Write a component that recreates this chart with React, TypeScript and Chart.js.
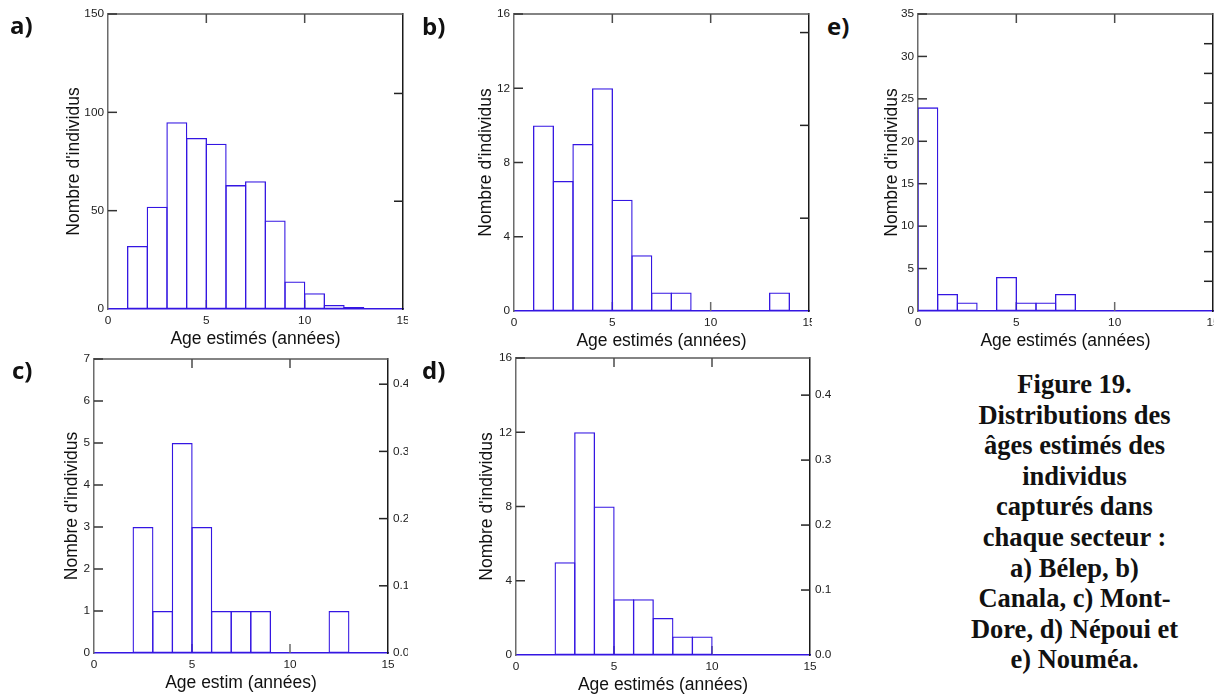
import React, { useEffect, useRef } from 'react';
import { Chart, registerables } from 'chart.js';

Chart.register(...registerables);

// ---- DATA ----
const ageBinCenters = [0.5, 1.5, 2.5, 3.5, 4.5, 5.5, 6.5, 7.5, 8.5, 9.5, 10.5, 11.5, 12.5, 13.5, 14.5];
const xTickValues = [0, 5, 10, 15];

const countsBelep = [0, 32, 52, 95, 87, 84, 63, 65, 45, 14, 8, 2, 1, 0, 0];
const countsCanala = [0, 10, 7, 9, 12, 6, 3, 1, 1, 0, 0, 0, 0, 1, 0];
const countsMontDore = [0, 0, 3, 1, 5, 3, 1, 1, 1, 0, 0, 0, 1, 0, 0];
const countsNepoui = [0, 0, 5, 12, 8, 3, 3, 2, 1, 1, 0, 0, 0, 0, 0];
const countsNoumea = [24, 2, 1, 0, 4, 1, 1, 2, 0, 0, 0, 0, 0, 0, 0];

const yTitle = "Nombre d'individus";
const xTitleMain = 'Age estimés (années)';
const xTitleC = 'Age estim (années)';

const captionLines = [
  'Figure 19.',
  'Distributions des',
  'âges estimés des',
  'individus',
  'capturés dans',
  'chaque secteur :',
  'a) Bélep, b)',
  'Canala, c) Mont-',
  'Dore, d) Népoui et',
  'e) Nouméa.',
];

// ---- STYLE / LAYOUT ----
const BAR_COLOR = '#3416e2';
const BAR_BW = 1.3;
const FONT = "'Liberation Sans', Arial, sans-serif";
const TICK_SIZE = 11.8;
const TITLE_SIZE = 17.5;
const TITLE_LH = TITLE_SIZE * 1.2;

type PanelCfg = {
  label: string;
  counts: number[];
  yMax: number;
  yStep: number;
  showRight: boolean;
  xTitle: string;
  canvas: { left: number; top: number; w: number; h: number };
  area: { l: number; r: number; t: number; b: number };
  yTitleX: number;
  xTitleY: number;
  labelPos: { left: number; top: number };
};

const panels: PanelCfg[] = [
  {
    label: 'a)', counts: countsBelep, yMax: 150, yStep: 50, showRight: false, xTitle: xTitleMain,
    canvas: { left: 0, top: 0, w: 408, h: 350 }, area: { l: 108, r: 403, t: 14, b: 309 },
    yTitleX: 74, xTitleY: 339.5, labelPos: { left: 10, top: 12.5 },
  },
  {
    label: 'b)', counts: countsCanala, yMax: 16, yStep: 4, showRight: false, xTitle: xTitleMain,
    canvas: { left: 420, top: 0, w: 392, h: 352 }, area: { l: 514, r: 809, t: 14, b: 311 },
    yTitleX: 486.5, xTitleY: 341, labelPos: { left: 422, top: 13.5 },
  },
  {
    label: 'e)', counts: countsNoumea, yMax: 35, yStep: 5, showRight: false, xTitle: xTitleMain,
    canvas: { left: 850, top: 0, w: 364, h: 352 }, area: { l: 918, r: 1213, t: 14, b: 311 },
    yTitleX: 892, xTitleY: 341, labelPos: { left: 827, top: 13.5 },
  },
  {
    label: 'c)', counts: countsMontDore, yMax: 7, yStep: 1, showRight: true, xTitle: xTitleC,
    canvas: { left: 0, top: 345, w: 408, h: 349 }, area: { l: 94, r: 388, t: 359, b: 653 },
    yTitleX: 72.5, xTitleY: 683, labelPos: { left: 12, top: 358 },
  },
  {
    label: 'd)', counts: countsNepoui, yMax: 16, yStep: 4, showRight: true, xTitle: xTitleMain,
    canvas: { left: 420, top: 345, w: 430, h: 351 }, area: { l: 516, r: 810, t: 358, b: 655 },
    yTitleX: 487.5, xTitleY: 685, labelPos: { left: 422, top: 358 },
  },
];

const framePlugin = {
  id: 'frame',
  beforeDatasetsDraw(chart: any) {
    const { ctx, chartArea: a, scales } = chart;
    const seg = (x1: number, y1: number, x2: number, y2: number, color: string) => {
      ctx.beginPath();
      ctx.strokeStyle = color;
      ctx.moveTo(x1, y1);
      ctx.lineTo(x2, y2);
      ctx.stroke();
    };
    const TL = 9;
    ctx.save();
    ctx.lineWidth = 1.5;
    seg(a.left, a.top, a.right, a.top, '#5a5a5a');
    const x = scales.x;
    x.ticks.forEach((t: any) => {
      if (t.value <= x.min || t.value >= x.max) return;
      const px = x.getPixelForValue(t.value);
      seg(px, a.top, px, a.top + TL, '#4a4a4a');
      seg(px, a.bottom, px, a.bottom - TL, '#6a6a6a');
    });
    const y = scales.y;
    y.ticks.forEach((t: any) => {
      if (t.value <= y.min) return;
      const py = y.getPixelForValue(t.value);
      seg(a.left, py, a.left + TL, py, '#333333');
    });
    const y2 = scales.y2;
    y2.ticks.forEach((t: any) => {
      if (t.value <= y2.min + 1e-9 || t.value >= y2.max - 1e-9) return;
      const py = y2.getPixelForValue(t.value);
      seg(a.right - TL, py, a.right, py, '#222222');
    });
    ctx.restore();
  },
};

function Panel({ cfg }: { cfg: PanelCfg }) {
  const ref = useRef<HTMLCanvasElement | null>(null);
  useEffect(() => {
    if (!ref.current) return;
    const { canvas, area } = cfg;
    const padLeft = cfg.yTitleX - canvas.left - TITLE_LH / 2;
    const yW = area.l - canvas.left - padLeft;
    const y2W = canvas.left + canvas.w - area.r;
    const padTop = area.t - canvas.top;
    const axisH = cfg.xTitleY - area.b + TITLE_LH / 2;
    const padBottom = Math.max(0, canvas.top + canvas.h - area.b - axisH);
    const total = cfg.counts.reduce((s, v) => s + v, 0);
    const binPx = (area.r - area.l) / 15;
    // widen each bar by one stroke width so that neighbouring edges share a single line
    const barPct = 1 + BAR_BW / binPx;

    const chart = new Chart(ref.current, {
      type: 'bar',
      data: {
        datasets: [
          {
            data: ageBinCenters.map((xv, i) => ({ x: xv, y: cfg.counts[i] })),
            backgroundColor: 'rgba(255,255,255,0)',
            borderColor: BAR_COLOR,
            borderWidth: BAR_BW,
            borderSkipped: false,
            barPercentage: barPct,
            categoryPercentage: 1,
          } as any,
        ],
      },
      options: {
        responsive: false,
        animation: false,
        events: [],
        layout: { padding: { left: padLeft, top: padTop, right: 0, bottom: padBottom } },
        plugins: { legend: { display: false }, tooltip: { enabled: false } },
        scales: {
          x: {
            type: 'linear',
            min: 0,
            max: 15,
            offset: false,
            grid: { display: false, drawTicks: false, offset: false },
            border: { display: true, color: BAR_COLOR, width: 1.5 },
            afterBuildTicks: (s: any) => {
              s.ticks = xTickValues.map((v) => ({ value: v }));
            },
            ticks: {
              autoSkip: false,
              maxRotation: 0,
              padding: 5,
              color: '#222',
              font: { family: FONT, size: TICK_SIZE },
            },
            title: {
              display: true,
              text: cfg.xTitle,
              color: '#111',
              padding: 0,
              font: { family: FONT, size: TITLE_SIZE, lineHeight: 1.2 },
            },
            afterFit: (s: any) => {
              s.height = axisH;
              s.paddingLeft = 0;
              s.paddingRight = 0;
            },
          },
          y: {
            type: 'linear',
            position: 'left',
            min: 0,
            max: cfg.yMax,
            grid: { display: false, drawTicks: false },
            border: { display: true, color: '#6b6b6b', width: 1.5 },
            ticks: {
              stepSize: cfg.yStep,
              padding: 4,
              color: '#222',
              font: { family: FONT, size: TICK_SIZE },
            },
            title: {
              display: true,
              text: yTitle,
              color: '#111',
              padding: 0,
              font: { family: FONT, size: TITLE_SIZE, lineHeight: 1.2 },
            },
            afterFit: (s: any) => {
              s.width = yW;
              s.paddingTop = 0;
              s.paddingBottom = 0;
            },
          },
          y2: {
            type: 'linear',
            position: 'right',
            min: 0,
            max: cfg.yMax / total,
            grid: { display: false, drawTicks: false },
            border: { display: true, color: '#1a1a1a', width: 1.5 },
            ticks: {
              display: cfg.showRight,
              stepSize: 0.1,
              includeBounds: false,
              padding: 5,
              color: '#222',
              font: { family: FONT, size: TICK_SIZE },
              callback: (v: any) => Number(v).toFixed(1),
            },
            afterFit: (s: any) => {
              s.width = y2W;
              s.paddingTop = 0;
              s.paddingBottom = 0;
            },
          },
        },
      } as any,
      plugins: [framePlugin],
    });
    return () => chart.destroy();
  }, [cfg]);

  return (
    <>
      <canvas
        ref={ref}
        width={cfg.canvas.w}
        height={cfg.canvas.h}
        style={{
          position: 'absolute',
          left: cfg.canvas.left,
          top: cfg.canvas.top,
          width: cfg.canvas.w,
          height: cfg.canvas.h,
        }}
      />
      <div
        style={{
          position: 'absolute',
          left: cfg.labelPos.left,
          top: cfg.labelPos.top,
          fontFamily: "'Open Sans', sans-serif",
          fontWeight: 700,
          fontSize: 24,
          lineHeight: '24px',
          color: '#111',
          whiteSpace: 'nowrap',
        }}
      >
        {cfg.label}
      </div>
    </>
  );
}

export default function App() {
  return (
    <div
      style={{
        position: 'fixed',
        left: 0,
        top: 0,
        width: 1224,
        height: 697,
        background: '#ffffff',
        overflow: 'hidden',
      }}
    >
      {panels.map((p) => (
        <Panel key={p.label} cfg={p} />
      ))}
      <div
        style={{
          position: 'absolute',
          left: 874.5,
          width: 400,
          top: 369,
          textAlign: 'center',
          fontFamily: "'Liberation Serif', 'Times New Roman', serif",
          fontWeight: 700,
          fontSize: 26.5,
          lineHeight: '30.6px',
          color: '#111',
          whiteSpace: 'nowrap',
        }}
      >
        {captionLines.map((l, i) => (
          <div key={i}>{l}</div>
        ))}
      </div>
    </div>
  );
}
